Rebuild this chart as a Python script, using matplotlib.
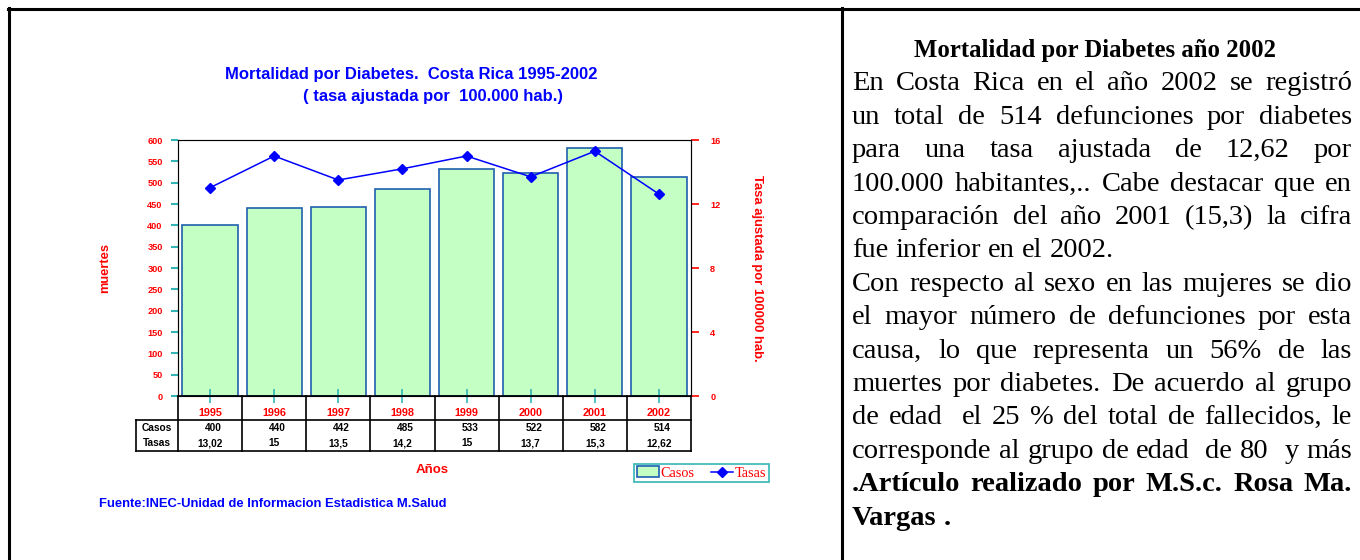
import matplotlib
matplotlib.use("Agg")
import matplotlib.pyplot as plt
from matplotlib.lines import Line2D
from matplotlib.patches import Patch
from matplotlib.transforms import blended_transform_factory

# data
years = ["1995", "1996", "1997", "1998", "1999", "2000", "2001", "2002"]
casos = [400, 440, 442, 485, 533, 522, 582, 514]
tasas = [13.02, 15, 13.5, 14.2, 15, 13.7, 15.3, 12.62]
tasas_labels = ["13,02", "15", "13,5", "14,2", "15", "13,7", "15,3", "12,62"]
left_ticks = list(range(0, 601, 50))
right_ticks = [0, 4, 8, 12, 16]

title_lines = ["Mortalidad por Diabetes.  Costa Rica 1995-2002",
               "( tasa ajustada por  100.000 hab.)"]
source = "Fuente:INEC-Unidad de Informacion Estadistica M.Salud"

panel_title = "Mortalidad por Diabetes año 2002"
para1 = [
    "En Costa Rica en el año 2002 se registró",
    "un total de 514 defunciones por diabetes",
    "para una tasa ajustada de 12,62 por",
    "100.000 habitantes,.. Cabe destacar que en",
    "comparación del año 2001 (15,3) la cifra",
    "fue inferior en el 2002.",
]
para2 = [
    "Con respecto al sexo en las mujeres se dio",
    "el mayor número de defunciones por esta",
    "causa, lo que representa un 56% de las",
    "muertes por diabetes. De acuerdo al grupo",
    "de edad  el 25 % del total de fallecidos, le",
    "corresponde al grupo de edad  de 80  y más",
]
para3 = [
    ".Artículo realizado por M.S.c. Rosa Ma.",
    "Vargas .",
]

W, H = 1360, 560
RED = "#FF0000"
BLUE = "#0000FF"
TEAL = "#33B5B5"
SANS = "Liberation Sans"
SERIF = "Liberation Serif"


def fx(px):
    return px / W


def fy(py):
    return 1 - py / H


fig = plt.figure(figsize=(W / 100, H / 100), dpi=100)

# plot area in pixels: x 178..691, y 140..396
ax_l, ax_r, ax_t, ax_b = 178, 691, 140, 396
ax = fig.add_axes([fx(ax_l), fy(ax_b), fx(ax_r - ax_l), (ax_b - ax_t) / H])
x = list(range(len(years)))
ax.bar(x, casos, width=0.86, color="#C4FFC4", edgecolor="#1F5FAF",
       linewidth=1.2, zorder=1)
ax.set_xlim(-0.5, len(years) - 0.5)
ax.set_ylim(0, 600)
ax.set_yticks(left_ticks)
ax.set_xticks(x)
ax.set_xticklabels([])
ax.tick_params(axis="x", direction="inout", length=9.5, width=1.2, color=TEAL)
ax.tick_params(axis="y", direction="out", length=5, width=1.5, color=TEAL,
               labelcolor=RED, labelsize=6.6, pad=6)
for lbl in ax.get_yticklabels():
    lbl.set_fontweight("bold")
    lbl.set_family(SANS)
for side in ["top", "left", "right"]:
    ax.spines[side].set_color("#555555")
ax.spines["bottom"].set_color("black")
ax.spines["bottom"].set_linewidth(1.2)
ax.set_ylabel("muertes", color=RED, fontsize=9.3, fontweight="bold",
              family=SANS, labelpad=26)

ax2 = ax.twinx()
ax2.plot(x, tasas, color=BLUE, lw=1.1, marker="D", markersize=5.5)
ax2.set_ylim(0, 16)
ax2.set_yticks(right_ticks)
ax2.tick_params(axis="y", direction="out", length=5.8, width=1.2, color=RED,
                labelcolor=RED, labelsize=6.6, pad=8)
for lbl in ax2.get_yticklabels():
    lbl.set_fontweight("bold")
    lbl.set_family(SANS)
ax2.set_ylabel("Tasa ajustada por 100000 hab.", color=RED, fontsize=9.4,
               fontweight="bold", family=SANS, rotation=-90, labelpad=31)

# data table under the axis
trans = blended_transform_factory(ax.transData, ax.transAxes)
ph = ax_b - ax_t
pw = (ax_r - ax_l) / len(years)


def ay(py):
    return (ax_b - py) / ph


row_top = ay(420)
row_bot = ay(451)
label_x = -0.5 - (ax_l - 135.5) / pw
line_kw = dict(color="black", lw=1.2, transform=trans, clip_on=False)
for k in range(len(years) + 1):
    ax.plot([k - 0.5, k - 0.5], [0, row_bot], **line_kw)
ax.plot([label_x, len(years) - 0.5], [row_top, row_top], **line_kw)
ax.plot([label_x, len(years) - 0.5], [row_bot, row_bot], **line_kw)
ax.plot([label_x, label_x], [row_top, row_bot], **line_kw)

cell_kw = dict(transform=trans, ha="center", va="center", color="black",
               fontsize=7.3, fontweight="bold", family=SANS)
for i, yr in enumerate(years):
    ax.text(i, ay(413), yr, transform=trans, ha="center", va="center",
            color=RED, fontsize=7.8, fontweight="bold", family=SANS)
    ax.text(i + 0.05, ay(428), str(casos[i]), **cell_kw)
    ax.text(i, ay(443), tasas_labels[i], **cell_kw)
for ypx, name in [(428, "Casos"), (443, "Tasas")]:
    ax.text((label_x - 0.5) / 2, ay(ypx), name, **cell_kw)

# chart texts
fig.text(fx(411), fy(75), title_lines[0], ha="center", va="center",
         color=BLUE, fontsize=12, fontweight="bold", family=SANS)
fig.text(fx(433), fy(97), title_lines[1], ha="center", va="center",
         color=BLUE, fontsize=12, fontweight="bold", family=SANS)
fig.text(fx(432), fy(470), "Años", ha="center", va="center", color=RED,
         fontsize=9.5, fontweight="bold", family=SANS)
fig.text(fx(99), fy(504), source, ha="left", va="center", color=BLUE,
         fontsize=9.4, fontweight="bold", family=SANS)

handles = [
    Patch(facecolor="#C4FFC4", edgecolor="#1F5FAF", lw=1.2),
    Line2D([], [], color=BLUE, marker="D", markersize=5, lw=1.1),
]
leg = fig.legend(handles, ["Casos", "Tasas"], loc="center",
                 bbox_to_anchor=(fx(701.5), fy(473)), ncol=2, frameon=True,
                 fancybox=False, edgecolor=TEAL, framealpha=1,
                 prop={"family": SERIF, "size": 10.3}, handlelength=1.5,
                 handletextpad=0.1, columnspacing=1.2, borderpad=0.2,
                 borderaxespad=0)
leg.get_frame().set_linewidth(1.2)
for t in leg.get_texts():
    t.set_color(RED)

# page frame
frame_kw = dict(color="black", lw=2.2, transform=fig.transFigure)
fig.add_artist(Line2D([fx(8), 1], [fy(9), fy(9)], **frame_kw))
fig.add_artist(Line2D([fx(9), fx(9)], [fy(8), 0], **frame_kw))
fig.add_artist(Line2D([fx(842), fx(842)], [fy(8), 0], **frame_kw))

# right text panel, justified like the original document
renderer = fig.canvas.get_renderer()
text_left, text_right = 852, 1352
body_size = 20.5
line_gap = 33.4
first_base = 57


def draw_line(line, ybase, weight="normal", justify=True):
    words = line.split(" ")
    arts = [fig.text(0, fy(ybase), w, ha="left", va="baseline",
                     fontsize=body_size, fontweight=weight, family=SERIF)
            for w in words]
    widths = [a.get_window_extent(renderer).width if w else 0
              for a, w in zip(arts, words)]
    if justify and len(words) > 1:
        gap = (text_right - text_left - sum(widths)) / (len(words) - 1)
    else:
        space = fig.text(0, 0, "a a", fontsize=body_size, family=SERIF)
        single = fig.text(0, 0, "aa", fontsize=body_size, family=SERIF)
        gap = (space.get_window_extent(renderer).width
               - single.get_window_extent(renderer).width)
        space.remove()
        single.remove()
    xpos = text_left
    for a, wdt in zip(arts, widths):
        a.set_x(fx(xpos))
        xpos += wdt + gap


fig.text(fx(1095), fy(first_base), panel_title, ha="center", va="baseline",
         fontsize=17.8, fontweight="bold", family=SERIF)
row = 1
for i, line in enumerate(para1):
    draw_line(line, first_base + row * line_gap, justify=i < len(para1) - 1)
    row += 1
for line in para2:
    draw_line(line, first_base + row * line_gap)
    row += 1
for i, line in enumerate(para3):
    draw_line(line, first_base + row * line_gap, weight="bold",
              justify=i < len(para3) - 1)
    row += 1

fig.savefig("out.png", dpi=100)
